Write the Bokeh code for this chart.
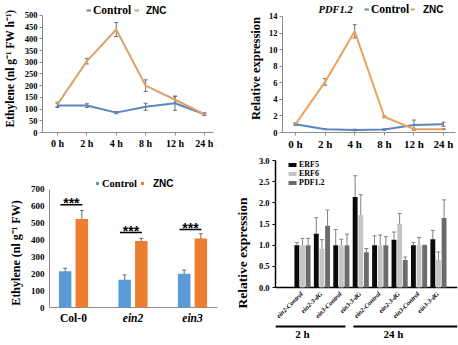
import math
from bokeh.plotting import figure
from bokeh.models import (Range1d, FixedTicker, ColumnDataSource, Whisker, Legend, LegendItem,
                          Label, TeeHead, NumeralTickFormatter)
from bokeh.layouts import column, row
from bokeh.core.properties import value
from bokeh.embed import file_html
from bokeh.resources import INLINE

# ---------------- data ----------------
times = ["0 h", "2 h", "4 h", "8 h", "12 h", "24 h"]
eth_control = [115, 115, 85, 110, 125, 78]
eth_control_err = [8, 8, 5, 15, 30, 5]
eth_znc = [120, 305, 440, 200, 140, 78]
eth_znc_err = [10, 12, 30, 25, 15, 5]

pdf_control = [1.0, 0.4, 0.3, 0.35, 0.9, 1.0]
pdf_control_err = [0.1, 0.05, 0.1, 0.1, 0.6, 0.25]
pdf_znc = [1.0, 6.1, 12.2, 1.9, 0.4, 0.4]
pdf_znc_err = [0.15, 0.4, 0.8, 0.1, 0.1, 0.05]

genotypes = ["Col-0", "ein2", "ein3"]
genotype_styles = ["bold", "bold italic", "bold italic"]
gen_control = [215, 165, 200]
gen_control_err = [18, 28, 22]
gen_znc = [525, 395, 410]
gen_znc_err = [50, 15, 28]
sig_level = [610, 445, 463]
sig_text = ["***", "***", "***"]

samples = ["ein2-Control", "ein2-3-dG", "ein3-Control", "ein3-3-dG",
           "ein2-Control", "ein2-3-dG", "ein3-Control", "ein3-3-dG"]
timepoints = ["2 h", "24 h"]
timepoint_first = [0, 4]
erf5 = [1.0, 1.27, 1.0, 2.14, 1.0, 1.13, 1.0, 1.14]
erf5_err = [0.06, 0.38, 0.37, 0.5, 0.22, 0.18, 0.06, 0.21]
erf6 = [1.0, 0.91, 1.0, 1.71, 1.0, 1.5, 1.0, 0.65]
erf6_err = [0.16, 0.22, 0.14, 0.48, 0.24, 0.25, 0.18, 0.19]
pdf12 = [1.0, 1.46, 1.0, 0.83, 1.0, 0.65, 1.0, 1.64]
pdf12_err = [0.16, 0.37, 0.26, 0.09, 0.2, 0.07, 0.0, 0.43]

# ---------------- styles ----------------
SERIF = "Liberation Serif"
SANS = "Liberation Sans"
BLUE_LINE = "#5a86c2"
ORANGE_LINE1 = "#dca268"
ORANGE_LINE2 = "#e8a25a"
BLUE_BAR = "#5b9bd5"
ORANGE_BAR = "#ed7d31"
AXIS_GRAY = "#8c8c8c"
ERR = "#6e6e6e"


def make_fig(w, h, xr, yr, left, right, top, bottom):
    p = figure(width=w, height=h, x_range=xr, y_range=yr, output_backend="svg",
               toolbar_location=None, min_border_left=left, min_border_right=right,
               min_border_top=top, min_border_bottom=bottom)
    p.outline_line_color = None
    p.xgrid.visible = False
    p.ygrid.visible = False
    for ax in (p.xaxis, p.yaxis):
        ax.minor_tick_line_color = None
        ax.major_tick_in = 0
        ax.major_tick_out = 3
        ax.major_label_text_font = SERIF
        ax.major_label_text_font_style = "bold"
        ax.major_label_text_color = "black"
        ax.axis_label_text_font = SERIF
        ax.axis_label_text_font_style = "bold"
        ax.axis_label_text_color = "black"
    return p


def legend(p, label, renderers, vx, vy, font, size, gw, gh, standoff):
    lg = Legend(items=[LegendItem(label=label, renderers=renderers)], location=(vx, vy),
                orientation="horizontal", padding=0, margin=0, spacing=0,
                glyph_width=gw, glyph_height=gh, label_standoff=standoff, label_height=12,
                label_text_font=font, label_text_font_style="bold", label_text_color="black",
                label_text_font_size=size, background_fill_alpha=0, border_line_alpha=0)
    p.add_layout(lg)


def whisker(p, xs, ys, errs, color, size=4, lower=True):
    src = ColumnDataSource(dict(x=xs, upper=[y + e for y, e in zip(ys, errs)],
                                lower=[y - e if lower else y for y, e in zip(ys, errs)]))
    w = Whisker(source=src, base="x", upper="upper", lower="lower", line_color=color,
                line_width=1,
                upper_head=TeeHead(size=size, line_color=color, line_width=1),
                lower_head=TeeHead(size=size, line_color=color, line_width=1) if lower else None)
    p.add_layout(w)


# ---------------- panel 1: ethylene time course ----------------
xi = list(range(len(times)))
p1 = make_fig(229, 152, Range1d(-0.51, 5.31), Range1d(0, 547), 42, 16, 4, 19)
p1.yaxis.bounds = (0, 500)
p1.yaxis.ticker = FixedTicker(ticks=list(range(0, 501, 50)))
p1.xaxis.ticker = FixedTicker(ticks=xi)
p1.xaxis.major_label_overrides = {i: t for i, t in enumerate(times)}
p1.xaxis.major_label_text_font_size = "10px"
p1.yaxis.major_label_text_font_size = "8.5px"
p1.yaxis.axis_label = "Ethylene (nl g\u207b\u00b9 FW h\u207b\u00b9)"
p1.yaxis.axis_label_text_font_size = "11.5px"
p1.yaxis.axis_label_standoff = 6
p1.xaxis.major_label_standoff = 2
p1.yaxis.major_label_standoff = 2
for ax in (p1.xaxis, p1.yaxis):
    ax.axis_line_color = AXIS_GRAY
    ax.major_tick_line_color = AXIS_GRAY
r1c = p1.line(xi, eth_control, line_color=BLUE_LINE, line_width=2)
r1z = p1.line(xi, eth_znc, line_color=ORANGE_LINE1, line_width=2)
whisker(p1, xi, eth_control, eth_control_err, ERR)
whisker(p1, xi, eth_znc, eth_znc_err, ERR)
legend(p1, "Control", [r1c], 44, 116, SERIF, "11.5px", 5, 12, 2)
legend(p1, "ZNC", [r1z], 92, 116, SANS, "10px", 5, 12, 7)

# ---------------- panel 2: PDF1.2 time course ----------------
p2 = make_fig(229, 152, Range1d(-0.44, 5.405), Range1d(0, 15.44), 53, 3, 4, 19)
p2.yaxis.bounds = (0, 14)
p2.yaxis.ticker = FixedTicker(ticks=list(range(0, 15, 2)))
p2.xaxis.ticker = FixedTicker(ticks=xi)
p2.xaxis.major_label_overrides = {i: t for i, t in enumerate(times)}
p2.xaxis.major_label_text_font_size = "11px"
p2.yaxis.major_label_text_font_size = "8.5px"
p2.yaxis.axis_label = "Relative expression"
p2.yaxis.axis_label_text_font_size = "12.5px"
p2.yaxis.axis_label_standoff = 3
p2.xaxis.major_label_standoff = 2
p2.yaxis.major_label_standoff = 2
for ax in (p2.xaxis, p2.yaxis):
    ax.axis_line_color = AXIS_GRAY
    ax.major_tick_line_color = AXIS_GRAY
r2c = p2.line(xi, pdf_control, line_color=BLUE_LINE, line_width=2)
r2z = p2.line(xi, pdf_znc, line_color=ORANGE_LINE2, line_width=2)
whisker(p2, xi, pdf_control, pdf_control_err, ERR)
whisker(p2, xi, pdf_znc, pdf_znc_err, ERR)
legend(p2, "Control", [r2c], 82, 117, SERIF, "11.5px", 5, 12, 2)
legend(p2, "ZNC", [r2z], 128, 117, SANS, "10px", 5, 12, 8)
p2.add_layout(Label(x=36, y=123, x_units="screen", y_units="screen", text="PDF1.2",
                    text_font=SERIF, text_font_style="bold italic", text_font_size="10.5px",
                    text_baseline="middle", text_color="black"))

# ---------------- panel 3: ethylene genotypes ----------------
# frame spans the whole lower part of the figure; the x axis is drawn at y = 0
gi = list(range(len(genotypes)))
x3r = Range1d(-0.403, 2.42)
p3 = make_fig(229, 193, x3r, Range1d(-225.4, 872), 49, 12, 8, 0)
p3.xaxis.visible = False
p3.yaxis.bounds = (0, 700)
p3.yaxis.ticker = FixedTicker(ticks=list(range(0, 701, 100)))
p3.yaxis.major_label_text_font_size = "9px"
p3.yaxis.axis_label = "Ethylene (nl g\u207b\u00b9 FW)"
p3.yaxis.axis_label_text_font_size = "12px"
p3.yaxis.axis_label_standoff = 5
p3.yaxis.major_label_standoff = 5
p3.yaxis.major_tick_out = 0
p3.yaxis.axis_line_color = AXIS_GRAY
p3.segment(x0=[x3r.start], x1=[x3r.end], y0=[0], y1=[0], line_color=AXIS_GRAY, line_width=1)
xc = [g - 0.14 for g in gi]
xz = [g + 0.14 for g in gi]
r3c = p3.vbar(x=xc, top=gen_control, width=0.21, fill_color=BLUE_BAR, line_color=None)
r3z = p3.vbar(x=xz, top=gen_znc, width=0.21, fill_color=ORANGE_BAR, line_color=None)
whisker(p3, xc, gen_control, gen_control_err, ERR, size=4)
whisker(p3, xz, gen_znc, gen_znc_err, ERR, size=4)
p3.segment(x0=[g - 0.22 for g in gi], x1=[g + 0.15 for g in gi], y0=sig_level, y1=sig_level,
           line_color="black", line_width=1.5)
p3.text(x=[g - 0.035 for g in gi], y=[s + 8 for s in sig_level], text=sig_text,
        text_font=value(SANS), text_font_style="bold", text_font_size="14px",
        text_align="center", text_baseline="middle", text_color="black")
p3.text(x=gi, y=[-65] * len(gi), text=genotypes, text_font=value(SERIF),
        text_font_style=genotype_styles, text_font_size="11.5px",
        text_align="center", text_baseline="middle", text_color="black")
legend(p3, "Control", [r3c], 46, 156, SERIF, "10.5px", 4, 4, 3)
legend(p3, "ZNC", [r3z], 91, 156, SANS, "10px", 4, 4, 9)

# ---------------- panel 4: ERF5 / ERF6 / PDF1.2 in mutants ----------------
si = list(range(len(samples)))
x4r = Range1d(-1.39, 7.98)
p4 = make_fig(229, 193, x4r, Range1d(-1.37, 3.0), 46, 1, 8, 0)
p4.xaxis.visible = False
p4.yaxis.bounds = (0, 3.0)
p4.yaxis.ticker = FixedTicker(ticks=[0, 0.5, 1.0, 1.5, 2.0, 2.5, 3.0])
p4.yaxis.formatter = NumeralTickFormatter(format="0.0")
p4.yaxis.major_label_text_font_size = "8.5px"
p4.yaxis.axis_label = "Relative expression"
p4.yaxis.axis_label_text_font_size = "13.5px"
p4.yaxis.axis_label_standoff = 6
p4.yaxis.major_label_standoff = 3
p4.yaxis.axis_line_color = "black"
p4.yaxis.axis_line_width = 1.5
p4.yaxis.major_tick_line_color = "black"
p4.segment(x0=[x4r.start], x1=[x4r.end], y0=[0], y1=[0], line_color="black", line_width=1.5)
off = 0.29
bw = 0.25
x5 = [s - off for s in si]
x6 = list(si)
xp = [s + off for s in si]
r45 = p4.vbar(x=x5, top=erf5, width=bw, fill_color="#0a0a0a", line_color=None)
r46 = p4.vbar(x=x6, top=erf6, width=bw, fill_color="#c4c4c4", line_color=None)
r4p = p4.vbar(x=xp, top=pdf12, width=bw, fill_color="#6b6b6b", line_color=None)
whisker(p4, x5, erf5, erf5_err, "#808080", size=4, lower=False)
whisker(p4, x6, erf6, erf6_err, "#808080", size=4, lower=False)
whisker(p4, xp, pdf12, pdf12_err, "#808080", size=4, lower=False)
# rotated sample labels under the axis
p4.text(x=[s - 0.05 for s in si], y=[-0.12] * len(si), text=samples, angle=math.pi / 4,
        text_font=value(SERIF), text_font_style="bold italic", text_font_size="6.5px",
        text_align="right", text_baseline="middle", text_color="black")
lg4 = Legend(items=[LegendItem(label="ERF5", renderers=[r45]),
                    LegendItem(label="ERF6", renderers=[r46]),
                    LegendItem(label="PDF1.2", renderers=[r4p])],
             location=(12, 158), orientation="vertical", padding=0, margin=0, spacing=0,
             glyph_width=10, glyph_height=5, label_standoff=2, label_height=7,
             label_text_font=SERIF, label_text_font_style="bold", label_text_color="black",
             label_text_font_size="8px", background_fill_alpha=0, border_line_alpha=0)
p4.add_layout(lg4)
# time-point group bars and labels
line_x0 = [x4r.start, 2.62]
line_x1 = [2.21, x4r.end]
p4.segment(x0=line_x0, x1=line_x1, y0=[-0.92, -0.92], y1=[-0.92, -0.92],
           line_color="black", line_width=2)
p4.text(x=[f + o for f, o in zip(timepoint_first, [0.0, 0.68])], y=[-1.09, -1.09],
        text=timepoints, text_font=value(SERIF), text_font_style="bold",
        text_font_size="11px", text_align="center", text_baseline="middle",
        text_color="black")

layout = column(row(p1, p2, spacing=0), row(p3, p4, spacing=0), spacing=0)
open("out.html", "w").write(file_html(layout, INLINE))
